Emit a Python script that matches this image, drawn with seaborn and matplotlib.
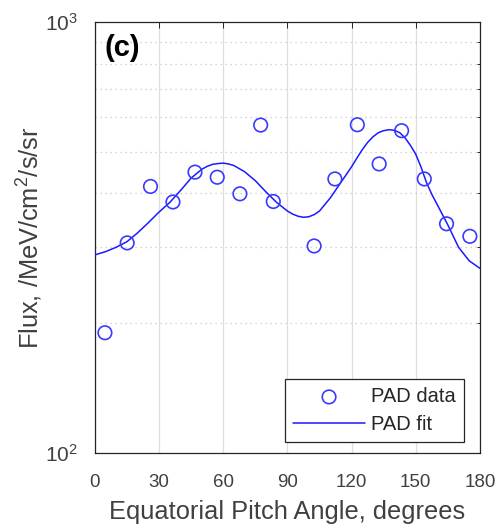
import numpy as np
import pandas as pd
import matplotlib
matplotlib.use("Agg")
import matplotlib.pyplot as plt
import matplotlib.ticker as mticker
import seaborn as sns

# PAD data (equatorial pitch angle, degrees; flux)
data_angle = [4.7, 15.1, 26.0, 36.5, 46.8, 57.2, 67.8, 77.5, 83.4,
              102.5, 112.2, 122.7, 132.9, 143.4, 154.0, 164.4, 175.3]
data_flux = [190, 307, 415, 382, 448, 436, 399, 576, 383,
             302, 432, 577, 468, 559, 432, 340, 318]

# PAD fit
fit_angle = [0, 5, 10, 15, 20, 25, 30, 35, 40, 45, 50, 52.5, 55, 57.5, 60,
             62.5, 65, 70, 75, 80, 85, 90, 92.5, 95, 97.5, 100, 102.5, 105,
             110, 115, 117.5, 120, 122.5, 125, 127.5, 130, 132.5, 135, 137.5,
             140, 142.5, 145, 147.5, 150, 152.5, 155, 157.5, 160, 165, 170,
             175, 180]
fit_flux = [288, 293, 300, 309, 324, 342, 362, 381, 406, 434, 455, 462, 467,
            469, 470, 468, 464, 449, 428, 403, 381, 364, 358, 354, 352, 353,
            357, 364, 390, 424, 442, 461, 483, 505, 525, 541, 553, 559, 562,
            560, 553, 538, 517, 493, 460, 424, 398, 377, 338, 300, 279, 268]

x_ticks = [0, 30, 60, 90, 120, 150, 180]

sns.set_style("white")
plt.rcParams['font.family'] = ['Liberation Sans', 'DejaVu Sans']
plt.rcParams['mathtext.fontset'] = 'custom'
plt.rcParams['mathtext.rm'] = 'Liberation Sans'
plt.rcParams['mathtext.it'] = 'Liberation Sans:italic'
plt.rcParams['mathtext.bf'] = 'Liberation Sans:bold'

txt = '#404040'
fig = plt.figure(figsize=(5.02, 5.31), dpi=100)
ax = fig.add_axes([0.189, 0.147, 0.767, 0.812])

df_data = pd.DataFrame({'angle': data_angle, 'flux': data_flux})
df_fit = pd.DataFrame({'angle': fit_angle, 'flux': fit_flux})

sns.lineplot(data=df_fit, x='angle', y='flux', ax=ax, color='#1a1aff',
             linewidth=1.1, label='PAD fit', zorder=3)
sns.scatterplot(data=df_data, x='angle', y='flux', ax=ax, marker='o',
                s=95, facecolor='none', edgecolor='#3a3aff', linewidth=1.2,
                label='PAD data', zorder=4)

ax.set_yscale('log')
ax.set_xlim(0, 180)
ax.set_ylim(100, 1000)
ax.set_xticks(x_ticks)
ax.xaxis.set_major_formatter(mticker.FormatStrFormatter('%d'))
ax.yaxis.set_minor_formatter(mticker.NullFormatter())
ax.yaxis.set_major_locator(mticker.FixedLocator([100, 1000]))
ax.yaxis.set_minor_locator(mticker.FixedLocator([200, 300, 400, 500, 600, 700, 800, 900]))

ax.grid(True, which='major', axis='x', color='#dedede', linewidth=0.9, linestyle='-')
ax.grid(True, which='minor', axis='y', color='#c8c8c8', linewidth=0.9, linestyle=(0, (1, 3)))
ax.set_axisbelow(True)

for sp in ax.spines.values():
    sp.set_color('#262626')
    sp.set_linewidth(0.9)
    sp.set_visible(True)

ax.tick_params(which='both', direction='in', top=True, right=True,
               colors='#262626', labelcolor=txt)
ax.tick_params(axis='x', labelsize=13.5, pad=15)
ax.tick_params(axis='y', labelsize=15, pad=12)
ax.tick_params(which='major', length=4, width=0.7)
ax.tick_params(which='minor', length=2.5, width=0.7)

ax.set_xlabel('Equatorial Pitch Angle, degrees', fontsize=18.3, color=txt, labelpad=7)
ax.set_ylabel('Flux, /MeV/cm$^2$/s/sr', fontsize=18.3, color=txt, labelpad=0)

ax.text(0.026, 0.972, '(c)', transform=ax.transAxes, fontsize=21,
        fontweight='bold', color='black', va='top', ha='left')

handles, labels = ax.get_legend_handles_labels()
order = [labels.index('PAD data'), labels.index('PAD fit')]
leg = ax.legend([handles[i] for i in order], [labels[i] for i in order],
                loc='lower right', bbox_to_anchor=(0.959, 0.026),
                fontsize=14.5, frameon=True, fancybox=False, framealpha=1,
                edgecolor='#262626', handlelength=3.6, borderpad=0.4,
                labelspacing=0.42, handletextpad=0.3, borderaxespad=0)
leg.get_frame().set_linewidth(0.9)
for t in leg.get_texts():
    t.set_color('#262626')

fig.savefig('out.png', dpi=100)
